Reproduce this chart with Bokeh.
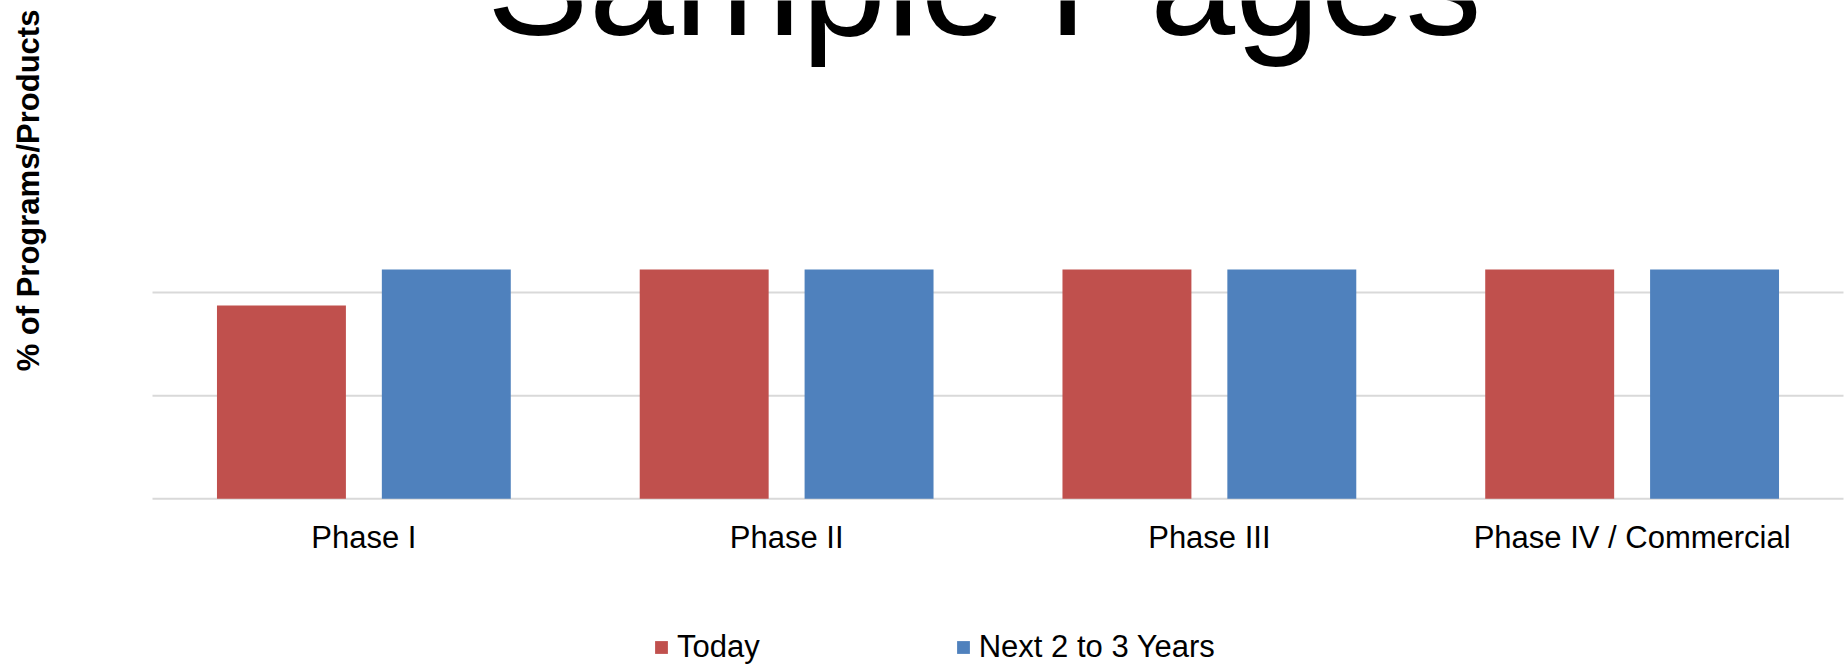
import math

from bokeh.core.properties import value
from bokeh.embed import file_html
from bokeh.models import ColumnDataSource, Legend, LegendItem, Range1d
from bokeh.plotting import figure
from bokeh.resources import INLINE

# Data
phases = ["Phase I", "Phase II", "Phase III", "Phase IV / Commercial"]
today = [75, 89, 89, 89]
next_years = [89, 89, 89, 89]
grid_ticks = [0, 40, 80]

series_names = ["Today", "Next 2 to 3 Years"]
colors = ["#C0504D", "#4F81BD"]

FONT = "Liberation Sans"

W, H = 1845, 665
# plot area in pixels and the vertical scale (pixels per 40 %)
AREA_LEFT, AREA_RIGHT, BASE_Y = 152, 1843, 498.3
PX_PER_40 = 103.1
cat_px = (AREA_RIGHT - AREA_LEFT) / len(phases)
ux = 1.0 / cat_px            # data units per pixel, x
uy = 40.0 / PX_PER_40        # data units per pixel, y


def dx(px):
    return (px - AREA_LEFT) * ux


def dy(py):
    return (BASE_Y - py) * uy


centers = [i + 0.5 for i in range(len(phases))]
source = ColumnDataSource(data=dict(
    phase=phases,
    x_today=[c - 0.195 for c in centers],
    x_next=[c + 0.195 for c in centers],
    x_label=centers,
    today=today,
    next_years=next_years,
))

p = figure(
    width=W,
    height=H,
    x_range=Range1d(dx(0), dx(W)),
    y_range=Range1d(dy(H), dy(0)),
    x_axis_location=None,
    y_axis_location=None,
    output_backend="svg",
    toolbar_location=None,
    min_border=0,
)
p.outline_line_color = None
p.background_fill_color = "white"
p.border_fill_color = "white"
for g in p.grid:
    g.visible = False

# horizontal gridlines across the category area
p.segment(x0=[0] * len(grid_ticks), x1=[len(phases)] * len(grid_ticks),
          y0=grid_ticks, y1=grid_ticks, line_color="#D9D9D9", line_width=2)

r_today = p.vbar(x="x_today", top="today", width=0.305, source=source,
                 fill_color=colors[0], line_color=None)
r_next = p.vbar(x="x_next", top="next_years", width=0.305, source=source,
                fill_color=colors[1], line_color=None)

# category labels under the bars
p.text(x="x_label", y=dy(536.5), text="phase", source=source,
       text_font=value(FONT), text_font_size="31px", text_color="black",
       text_align="center", text_baseline="alphabetic")

# title
p.text(x=[dx(983.7)], y=[dy(-19)], text=["Sample Pages"],
       text_font=value(FONT), text_font_size="153px", text_color="black",
       text_align="center", text_baseline="alphabetic")

# vertical caption
p.text(x=[dx(28)], y=[dy(190)], text=["% of Programs/Products"], angle=math.pi / 2,
       text_font=value(FONT), text_font_size="31px", text_font_style="bold",
       text_color="black", text_align="center", text_baseline="alphabetic")

# legend
legend = Legend(
    items=[LegendItem(label=series_names[0], renderers=[r_today]),
           LegendItem(label=series_names[1], renderers=[r_next])],
    location=(653, 0),
    orientation="horizontal",
    glyph_width=16,
    glyph_height=16,
    label_standoff=8,
    spacing=195,
    padding=0,
    margin=0,
    border_line_color=None,
    background_fill_alpha=0,
    label_text_font=FONT,
    label_text_font_size="31px",
    label_text_color="black",
)
p.add_layout(legend, "center")

open("out.html", "w").write(file_html(p, INLINE))
